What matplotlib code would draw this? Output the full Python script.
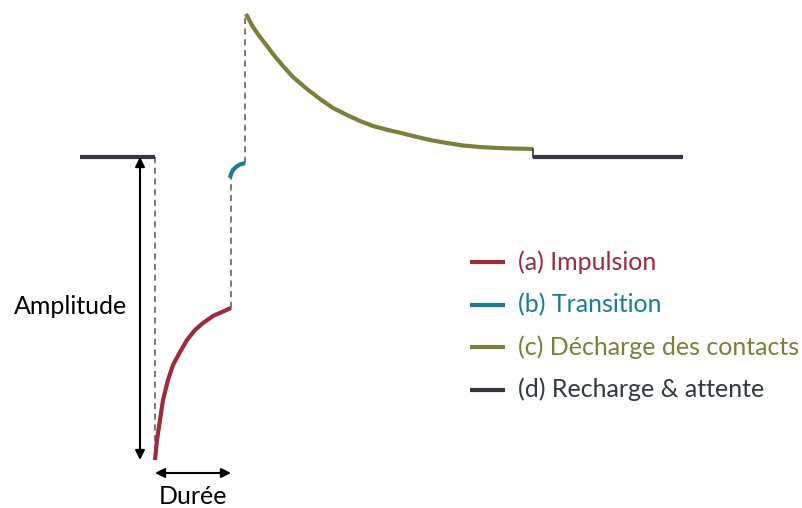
import matplotlib.pyplot as plt

plt.rcParams['font.family'] = ['Lato', 'DejaVu Sans']

# schematic levels, baseline at 0 (x = time, y = amplitude)
base1_x = [80, 155]
base1_y = [0, 0]

impulse_x = [155, 157, 160, 163, 168, 173, 180, 187, 195, 203, 213, 222, 231]
impulse_y = [-303, -283, -263, -243, -223, -208, -195, -183, -173, -166, -159, -155, -151]

trans_x = [230, 231, 233, 236, 240, 245]
trans_y = [-21, -17, -13, -10, -7.5, -6]

decay_x = [246, 253, 260, 267, 273, 283, 293, 307, 320, 333, 347, 360, 373,
           388, 397, 413, 430, 447, 463, 480, 497, 513, 533]
decay_y = [143, 130, 120, 111, 103, 91, 80, 68, 58, 49, 42, 36, 31,
           27, 25, 21, 17, 14, 11.5, 10, 9, 8.5, 8]

recharge_x = [533, 533, 683]
recharge_y = [8, 0, 0]

labels = ['(a) Impulsion', '(b) Transition', '(c) Décharge des contacts', '(d) Recharge & attente']
colors = ['#9E2A3C', '#177E92', '#7B7F3A', '#343741']

fig = plt.figure(figsize=(8.03, 5.08), dpi=100)
ax = fig.add_axes([0, 0, 1, 1])
ax.set_xlim(0, 803)
ax.set_ylim(-351, 157)
ax.axis('off')

lw = 3
# dashed guides
dash = dict(color='#555555', lw=1.1, ls=(0, (4, 3)))
ax.plot([impulse_x[0], impulse_x[0]], [base1_y[-1], impulse_y[0]], **dash)
ax.plot([impulse_x[-1], impulse_x[-1]], [impulse_y[-1], trans_y[0]], **dash)
ax.plot([trans_x[-1], trans_x[-1]], [trans_y[-1], decay_y[0]], **dash)

ax.plot(base1_x, base1_y, color=colors[3], lw=lw, solid_capstyle='butt')
ax.plot(impulse_x, impulse_y, color=colors[0], lw=lw, solid_capstyle='butt', solid_joinstyle='round')
ax.plot(trans_x, trans_y, color=colors[1], lw=lw, solid_capstyle='butt', solid_joinstyle='round')
ax.plot(decay_x, decay_y, color=colors[2], lw=lw, solid_capstyle='butt', solid_joinstyle='round')
ax.plot(recharge_x[:2], recharge_y[:2], color=colors[3], lw=1.2)
ax.plot(recharge_x[1:], recharge_y[1:], color=colors[3], lw=lw, solid_capstyle='butt')

# amplitude / duration arrows
arr = dict(arrowstyle='<|-|>', color='black', lw=1.5, mutation_scale=14, shrinkA=0, shrinkB=0)
ax.annotate('', xy=(140, 0), xytext=(140, impulse_y[0]), arrowprops=arr)
ax.annotate('', xy=(impulse_x[0], -316), xytext=(impulse_x[-1], -316), arrowprops=arr)
ax.text(71, -149, 'Amplitude', fontsize=18, ha='center', va='center')
ax.text(193, -340, 'Durée', fontsize=18, ha='center', va='center')

# legend
for i, (lab, c) in enumerate(zip(labels, colors)):
    y = -105 - i * 42.5
    ax.plot([470, 505], [y, y], color=c, lw=lw, solid_capstyle='butt')
    ax.text(518, y, lab, color=c, fontsize=18, va='center', ha='left')

fig.savefig('out.png', dpi=100)
